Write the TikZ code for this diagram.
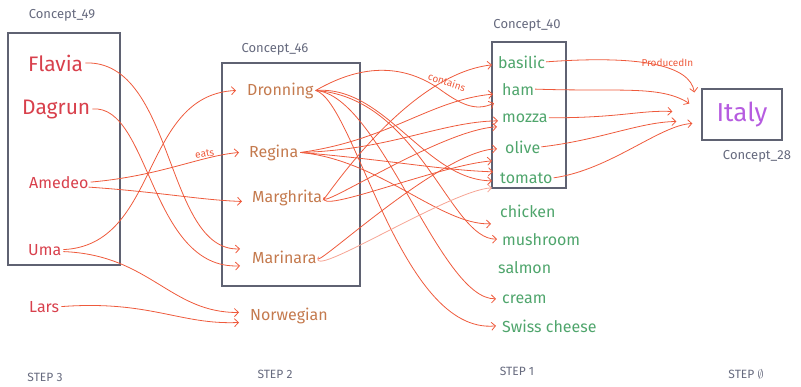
\documentclass[tikz,border=0pt]{standalone}
\usepackage{fontspec}
\setmainfont{Fira Sans}
\usetikzlibrary{arrows.meta,calc}
\definecolor{boxgray}{HTML}{5F6272}
\definecolor{lblgray}{HTML}{666A7E}
\definecolor{s3red}{HTML}{D8404C}
\definecolor{s2brown}{HTML}{C47A4E}
\definecolor{s1green}{HTML}{4FA56C}
\definecolor{itpurple}{HTML}{B65CE0}
\definecolor{edgered}{HTML}{EE5A3C}
\begin{document}
\begin{tikzpicture}[x=1pt,y=-1pt,
  conceptbox/.style={draw=boxgray,line width=1.3pt,inner sep=0pt},
  conceptlbl/.style={text=lblgray,font=\fontsize{13}{15}\selectfont,inner sep=1pt},
  steplbl/.style={text=lblgray,font=\fontsize{12}{14}\selectfont,inner sep=1pt},
  person/.style={text=s3red,font=\fontsize{16}{19}\selectfont,anchor=base west,inner sep=2pt},
  bigperson/.style={text=s3red,font=\fontsize{21}{25}\selectfont,anchor=base west,inner sep=2pt},
  pizza/.style={text=s2brown,font=\fontsize{16}{19}\selectfont,anchor=base west,inner sep=2pt},
  ingr/.style={text=s1green,font=\fontsize{16}{19}\selectfont,anchor=base west,inner sep=1pt},
  rel/.style={draw=edgered,line width=0.8pt,-{Straight Barb[length=4pt,width=8pt]}},
  lightrel/.style={rel,draw=edgered!55},
  rellbl/.style={text=edgered,font=\fontsize{10}{12}\selectfont,inner sep=1pt}
]
\path[use as bounding box] (0,0) rectangle (801,386);

% concept boxes
\node[conceptbox,minimum width=112pt,minimum height=232pt] (box49) at (64,149) {};
\node[conceptbox,minimum width=138pt,minimum height=223pt] (box46) at (291,174.5) {};
\node[conceptbox,minimum width=74pt,minimum height=146pt] (box40) at (529,115) {};
\node[conceptbox,minimum width=80pt,minimum height=51pt,text=itpurple,font=\fontsize{26}{30}\selectfont] (italy) at (742,114.5) {Italy};

% concept labels
\node[conceptlbl] (c49) at (62,15) {Concept\_49};
\node[conceptlbl] (c46) at (275,49) {Concept\_46};
\node[conceptlbl] (c40) at (527,25) {Concept\_40};
\node[conceptlbl] (c28) at (757,156) {Concept\_28};

% step labels
\node[steplbl] (s3) at (45,377) {STEP 3};
\node[steplbl] (s2) at (275,374) {STEP 2};
\node[steplbl] (s1) at (517,371) {STEP 1};
\node[steplbl] (s0) at (746,374) {STEP $\emptyset$};

% step 3 people
\node[bigperson] (flavia) at (26,71) {Flavia};
\node[bigperson] (dagrun) at (20,114) {Dagrun};
\node[person] (amedeo) at (27,188) {Amedeo};
\node[person] (uma) at (26,255) {Uma};
\node[person] (lars) at (27,312) {Lars};

% step 2 pizzas
\node[pizza] (dronning) at (245,95) {Dronning};
\node[pizza] (regina) at (247,157) {Regina};
\node[pizza] (margh) at (250,202) {Marghrita};
\node[pizza] (marinara) at (250,263) {Marinara};
\node[pizza] (norw) at (248,320) {Norwegian};

% step 1 ingredients
\node[ingr] (basilic) at (497,68) {basilic};
\node[ingr] (ham) at (501,95) {ham};
\node[ingr] (mozza) at (501,122) {mozza};
\node[ingr] (olive) at (504,153) {olive};
\node[ingr] (tomato) at (499,183) {tomato};
\node[ingr] (chicken) at (499,217) {chicken};
\node[ingr] (mushroom) at (501,245) {mushroom};
\node[ingr] (salmon) at (497,273) {salmon};
\node[ingr] (cream) at (501,303) {cream};
\node[ingr] (swiss) at (501,332) {Swiss cheese};

% arrow targets near Italy
\coordinate (it1) at ($(italy.west)+(-7,-22)$);
\coordinate (it2) at ($(italy.west)+(-12,-11)$);
\coordinate (it3) at ($(italy.west)+(-29,-3)$);
\coordinate (it4) at ($(italy.west)+(-25,7)$);
\coordinate (it5) at ($(italy.west)+(-9,9)$);

% step 3 -> step 2
\draw[rel] (flavia.east) .. controls (175,60) and (165,252) .. ($(marinara.west)+(-10,-8)$);
\draw[rel] (dagrun.east) .. controls (150,104) and (150,270) .. ($(marinara.west)+(-10,9)$);
\draw[rel] (amedeo.east) .. controls (160,176) and (200,156) .. node[rellbl,pos=0.72,above,rotate=8] (eats) {eats} ($(regina.west)+(-8,0)$);
\draw[rel] ($(amedeo.east)+(-2,5)$) .. controls (160,192) and (200,200) .. ($(margh.west)+(-8,4)$);
\draw[rel] (uma.east) .. controls (160,245) and (140,95) .. ($(dronning.west)+(-9,0)$);
\draw[rel] ($(uma.east)+(0,2)$) .. controls (150,255) and (170,313) .. ($(norw.west)+(-9,-3)$);
\draw[rel] (lars.east) .. controls (150,300) and (180,325) .. ($(norw.west)+(-9,7)$);

% step 2 -> step 1
% Dronning
\draw[rel] (dronning.east) .. controls (365,62) and (405,66) .. (438,88) .. controls (460,104) and (475,112) .. ($(ham.west)+(-7,14)$);
\node[rellbl,rotate=-18] (contains) at (447,82) {contains};
\draw[rel] (dronning.east) .. controls (385,85) and (425,180) .. ($(tomato.west)+(-7,3)$);
\draw[rel] (dronning.east) .. controls (420,98) and (450,240) .. ($(mushroom.west)+(-4,0)$);
\draw[rel] (dronning.east) .. controls (380,95) and (440,300) .. ($(cream.west)+(-5,0)$);
\draw[rel] (dronning.east) .. controls (355,102) and (400,335) .. ($(swiss.west)+(-5,0)$);
% Regina
\draw[rel] (regina.east) .. controls (390,140) and (430,100) .. ($(ham.west)+(-8,5)$);
\draw[rel] (regina.east) .. controls (390,150) and (440,122) .. ($(mozza.west)+(-3,3)$);
\draw[rel] (regina.east) .. controls (390,160) and (440,170) .. ($(tomato.west)+(-6,-6)$);
\draw[rel] (regina.east) .. controls (380,160) and (440,225) .. ($(chicken.west)+(-8,13)$);
% Marghrita
\draw[rel] (margh.east) .. controls +(-10,20) and (400,75) .. ($(basilic.west)+(-5,3)$);
\draw[rel] (margh.east) .. controls +(-8,15) and (440,130) .. ($(mozza.west)+(-4,9)$);
\draw[rel] (margh.east) .. controls +(-8,18) and (440,165) .. ($(olive.west)+(-12,14)$);
% Marinara
\draw[rel] (marinara.east) .. controls +(-12,20) and (440,150) .. ($(olive.west)+(-7,2)$);
\draw[lightrel] (marinara.east) .. controls +(-12,25) and (450,190) .. ($(tomato.west)+(-7,10)$);

% step 1 -> step 0
\draw[rel] (basilic.east) .. controls (640,55) and (690,65) .. node[rellbl,pos=0.6,above] (produced) {ProducedIn} (it1);
\draw[rel] (ham.east) .. controls (620,92) and (660,85) .. (it2);
\draw[rel] (mozza.east) .. controls (620,118) and (640,110) .. (it3);
\draw[rel] (olive.east) .. controls (600,140) and (640,122) .. (it4);
\draw[rel] (tomato.east) .. controls (610,170) and (660,125) .. (it5);
\end{tikzpicture}
\end{document}
